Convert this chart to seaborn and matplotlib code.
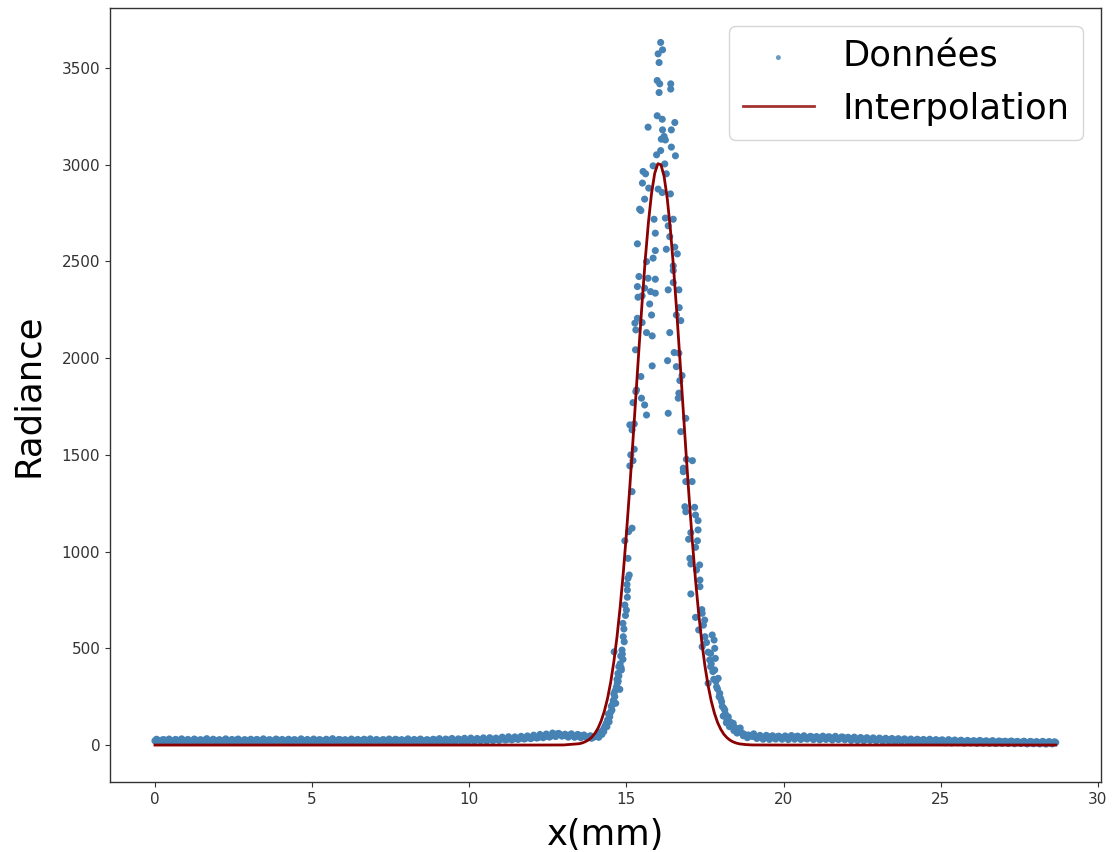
import numpy as np
import pandas as pd
import matplotlib
matplotlib.use("Agg")
import matplotlib.pyplot as plt
import seaborn as sns

# ---- Data ----
# baseline left of the peak (x in mm, radiance)
base_left_x = [0.0, 0.1, 0.2, 0.3, 0.4, 0.5, 0.6, 0.7, 0.8, 0.9, 1.0,
               1.1, 1.2, 1.3, 1.4, 1.5, 1.6, 1.7, 1.8, 1.9, 2.0,
               2.1, 2.2, 2.3, 2.4, 2.5, 2.6, 2.7, 2.8, 2.9, 3.0,
               3.1, 3.2, 3.3, 3.4, 3.5, 3.6, 3.7, 3.8, 3.9, 4.0,
               4.1, 4.2, 4.3, 4.4, 4.5, 4.6, 4.7, 4.8, 4.9, 5.0,
               5.1, 5.2, 5.3, 5.4, 5.5, 5.6, 5.7, 5.8, 5.9, 6.0,
               6.1, 6.2, 6.3, 6.4, 6.5, 6.6, 6.7, 6.8, 6.9, 7.0,
               7.1, 7.2, 7.3, 7.4, 7.5, 7.6, 7.7, 7.8, 7.9, 8.0,
               8.1, 8.2, 8.3, 8.4, 8.5, 8.6, 8.7, 8.8, 8.9, 9.0,
               9.1, 9.2, 9.3, 9.4, 9.5, 9.6, 9.7, 9.8, 9.9, 10.0,
               10.1, 10.2, 10.3, 10.4, 10.5, 10.6, 10.7, 10.8, 10.9, 11.0,
               11.1, 11.2, 11.3, 11.4, 11.5, 11.6, 11.7, 11.8, 11.9, 12.0,
               12.1, 12.2, 12.3, 12.4, 12.5, 12.6, 12.7, 12.8, 12.9, 13.0,
               13.1, 13.2, 13.3, 13.4, 13.5, 13.6, 13.7, 13.8]
base_left_y = [22, 25, 19, 27, 21, 24, 18, 26, 23, 20, 25,
               22, 19, 26, 24, 21, 27, 20, 23, 25, 18,
               24, 21, 26, 19, 23, 27, 22, 20, 25, 21,
               23, 26, 18, 24, 21, 25, 22, 19, 27, 23,
               20, 24, 22, 26, 19, 23, 25, 21, 18, 24,
               22, 26, 20, 23, 25, 19, 24, 21, 27, 22,
               19, 23, 25, 21, 24, 18, 26, 22, 20, 24,
               23, 21, 26, 19, 24, 22, 27, 20, 23, 25,
               21, 24, 19, 26, 23, 22, 25, 20, 27, 23,
               24, 22, 27, 21, 25, 23, 28, 22, 26, 24,
               27, 24, 29, 25, 28, 26, 31, 27, 29, 30,
               32, 29, 34, 31, 36, 33, 38, 35, 40, 37,
               42, 39, 45, 43, 48, 46, 52, 58, 54, 50,
               47, 52, 49, 45, 50, 47, 44, 42]

# interleaved baseline samples, left side
base_left2_x = [0.05, 0.15, 0.25, 0.35, 0.45, 0.55, 0.65, 0.75, 0.85, 0.95,
                1.05, 1.15, 1.25, 1.35, 1.45, 1.55, 1.65, 1.75, 1.85, 1.95,
                2.05, 2.15, 2.25, 2.35, 2.45, 2.55, 2.65, 2.75, 2.85, 2.95,
                3.05, 3.15, 3.25, 3.35, 3.45, 3.55, 3.65, 3.75, 3.85, 3.95,
                4.05, 4.15, 4.25, 4.35, 4.45, 4.55, 4.65, 4.75, 4.85, 4.95,
                5.05, 5.15, 5.25, 5.35, 5.45, 5.55, 5.65, 5.75, 5.85, 5.95,
                6.05, 6.15, 6.25, 6.35, 6.45, 6.55, 6.65, 6.75, 6.85, 6.95,
                7.05, 7.15, 7.25, 7.35, 7.45, 7.55, 7.65, 7.75, 7.85, 7.95,
                8.05, 8.15, 8.25, 8.35, 8.45, 8.55, 8.65, 8.75, 8.85, 8.95,
                9.05, 9.15, 9.25, 9.35, 9.45, 9.55, 9.65, 9.75, 9.85, 9.95,
                10.05, 10.15, 10.25, 10.35, 10.45, 10.55, 10.65, 10.75, 10.85, 10.95,
                11.05, 11.15, 11.25, 11.35, 11.45, 11.55, 11.65, 11.75, 11.85, 11.95,
                12.05, 12.15, 12.25, 12.35, 12.45, 12.55, 12.65, 12.75, 12.85, 12.95,
                13.05, 13.15, 13.25, 13.35, 13.45, 13.55, 13.65, 13.75, 13.85]
base_left2_y = [30, 16, 28, 14, 31, 17, 29, 15, 32, 13,
                29, 17, 31, 14, 28, 16, 33, 15, 30, 17,
                28, 14, 32, 16, 29, 13, 31, 17, 28, 15,
                30, 16, 29, 14, 32, 15, 28, 17, 31, 14,
                29, 16, 30, 13, 28, 17, 32, 15, 29, 16,
                31, 14, 28, 16, 30, 15, 33, 17, 29, 14,
                28, 16, 31, 15, 29, 13, 30, 17, 32, 15,
                29, 16, 28, 14, 31, 17, 30, 15, 28, 16,
                32, 14, 29, 17, 31, 15, 28, 16, 30, 18,
                33, 17, 31, 19, 34, 18, 32, 20, 35, 19,
                36, 21, 34, 22, 37, 20, 38, 23, 36, 24,
                41, 26, 43, 27, 42, 29, 45, 31, 47, 33,
                51, 36, 55, 38, 57, 41, 62, 44, 60, 46,
                56, 41, 58, 40, 55, 38, 52, 37, 48]

# rising edge
rise_x = [13.89, 13.95, 14.0, 14.05, 14.1, 14.15, 14.2, 14.26, 14.3, 14.33,
          14.36, 14.4, 14.43, 14.47, 14.5, 14.52, 14.54, 14.58, 14.6, 14.61,
          14.63, 14.66, 14.68, 14.7, 14.71, 14.73, 14.76, 14.76, 14.79, 14.8,
          14.82, 14.84, 14.86, 14.89, 14.89, 14.9, 14.92, 14.93, 14.95, 14.97,
          15.0, 15.02, 15.03, 15.03, 15.05, 15.09, 14.12, 14.22, 14.28, 14.38,
          14.45, 14.56, 14.64, 14.74, 14.83, 14.87]
rise_y = [35, 40, 45, 48, 52, 60, 68, 78, 90, 100,
          112, 130, 160, 146, 170, 200, 181, 230, 265, 482,
          250, 216, 300, 340, 319, 370, 405, 357, 288, 420,
          460, 388, 491, 443, 629, 560, 600, 534, 724, 670,
          698, 830, 801, 764, 862, 879, 40, 55, 70, 95,
          120, 210, 280, 330, 400, 470]

# peak cloud
peak_x = [16.09, 16.15, 16.01, 16.04, 15.98, 16.06, 16.04, 16.41, 16.41, 15.98,
          16.14, 16.54, 15.69, 16.15, 16.43, 16.2, 16.11, 16.24, 16.43, 16.09,
          15.96, 16.56, 15.85, 16.22, 15.53, 15.61, 16.27, 15.51, 15.71, 16.01,
          16.14, 16.4, 15.58, 15.42,
          15.46, 15.88, 16.24, 16.49, 16.33, 15.92, 16.38, 15.35, 16.27, 15.92,
          16.54, 16.62, 15.85, 15.64, 16.49, 16.49, 15.4, 15.69, 15.92, 16.49,
          15.35, 15.58, 16.33, 16.67, 15.77, 15.92, 15.37, 15.5, 15.74, 16.68,
          15.35, 15.8, 16.59, 16.73, 15.27, 15.5, 15.3, 15.64, 15.82, 16.38,
          15.29, 16.52, 16.67, 16.31, 15.82, 16.59, 15.46, 16.77, 16.7, 15.32,
          15.3, 15.48, 15.21, 15.58, 16.67, 16.65, 15.64, 16.33, 16.89, 15.11,
          15.25, 15.18, 16.73, 15.25, 15.14, 15.21, 15.11, 16.91, 17.1, 16.81,
          16.81, 16.89, 17.09, 15.18, 16.86, 16.89, 17.17, 17.2, 17.28, 15.18,
          15.07, 17.05, 17.28, 14.95, 16.98, 17.26, 17.2, 15.05, 17.02, 17.05,
          17.33]
peak_y = [3632, 3594, 3573, 3528, 3435, 3418, 3373, 3418, 3391, 3253,
          3235, 3218, 3194, 3180, 3180, 3146, 3132, 3128, 3091, 3073,
          3051, 3046, 2994, 3004, 2965, 2953, 2953, 2905, 2879, 2874,
          2856, 2849, 2822, 2770,
          2763, 2718, 2724, 2718, 2684, 2646, 2628, 2591, 2563, 2556,
          2574, 2539, 2517, 2499, 2477, 2453, 2422, 2413, 2408, 2391,
          2370, 2362, 2353, 2353, 2344, 2336, 2315, 2322, 2280, 2261,
          2206, 2223, 2223, 2194, 2181, 2184, 2146, 2132, 2115, 2132,
          2043, 2029, 2026, 1987, 1960, 1956, 1905, 1910, 1884, 1836,
          1827, 1793, 1770, 1758, 1819, 1793, 1706, 1715, 1689, 1655,
          1660, 1629, 1620, 1529, 1500, 1470, 1443, 1477, 1470, 1431,
          1413, 1362, 1362, 1310, 1232, 1206, 1229, 1189, 1160, 1121,
          1103, 1098, 1112, 1056, 1064, 1056, 1022, 965, 965, 936,
          931]

# falling edge
fall_x = [17.23, 17.34, 17.05, 17.34, 17.4, 17.41, 17.2, 17.45, 17.49, 17.3,
          17.5, 17.55, 17.73, 17.79, 17.41, 17.81, 17.6, 17.68, 17.65, 17.83,
          17.7, 17.68, 17.81, 17.75, 17.78, 17.92, 17.6, 17.85, 17.87, 17.9,
          17.97, 17.95, 18.0, 18.03, 18.05, 18.1, 18.13, 18.15, 18.2, 18.24,
          18.3, 18.35, 18.4, 18.45, 18.5, 18.56, 18.6, 18.65, 18.7, 18.75,
          18.8, 18.88, 18.95, 19.0, 19.1, 19.19, 18.08, 18.18, 18.28, 18.42,
          18.52, 18.62, 18.72, 18.85, 19.05, 19.15, 19.25]
fall_y = [905, 853, 781, 819, 700, 681, 660, 620, 646, 595,
          560, 530, 569, 543, 508, 500, 480, 474, 440, 448,
          420, 405, 388, 380, 340, 345, 319, 330, 301, 290,
          267, 250, 240, 224, 200, 190, 181, 160, 130, 146,
          120, 100, 112, 90, 85, 78, 70, 65, 60, 55,
          50, 52, 48, 45, 42, 40, 150, 115, 95, 75,
          62, 88, 48, 38, 58, 34, 50]

# baseline right of the peak
base_right_x = [19.3, 19.4, 19.5, 19.6, 19.7, 19.8, 19.9, 20.0,
                20.1, 20.2, 20.3, 20.4, 20.5, 20.6, 20.7, 20.8, 20.9, 21.0,
                21.1, 21.2, 21.3, 21.4, 21.5, 21.6, 21.7, 21.8, 21.9, 22.0,
                22.1, 22.2, 22.3, 22.4, 22.5, 22.6, 22.7, 22.8, 22.9, 23.0,
                23.1, 23.2, 23.3, 23.4, 23.5, 23.6, 23.7, 23.8, 23.9, 24.0,
                24.1, 24.2, 24.3, 24.4, 24.5, 24.6, 24.7, 24.8, 24.9, 25.0,
                25.1, 25.2, 25.3, 25.4, 25.5, 25.6, 25.7, 25.8, 25.9, 26.0,
                26.1, 26.2, 26.3, 26.4, 26.5, 26.6, 26.7, 26.8, 26.9, 27.0,
                27.1, 27.2, 27.3, 27.4, 27.5, 27.6, 27.7, 27.8, 27.9, 28.0,
                28.1, 28.2, 28.3, 28.4, 28.5, 28.66]
base_right_y = [42, 38, 45, 40, 36, 43, 39, 37,
                41, 36, 39, 43, 37, 40, 35, 38, 42, 36,
                39, 34, 37, 41, 35, 38, 33, 36, 40, 34,
                35, 31, 34, 29, 33, 30, 32, 28, 31, 29,
                30, 26, 29, 27, 25, 28, 24, 27, 26, 23,
                25, 22, 26, 21, 24, 20, 23, 22, 19, 24,
                21, 18, 22, 20, 17, 21, 19, 16, 20, 18,
                17, 20, 16, 19, 15, 18, 17, 14, 19, 16,
                15, 18, 14, 17, 13, 16, 15, 12, 16, 14,
                13, 15, 12, 14, 11, 13]

# interleaved baseline samples, right side
base_right2_x = [19.35, 19.45, 19.55, 19.65, 19.75, 19.85, 19.95,
                 20.05, 20.15, 20.25, 20.35, 20.45, 20.55, 20.65, 20.75, 20.85, 20.95,
                 21.05, 21.15, 21.25, 21.35, 21.45, 21.55, 21.65, 21.75, 21.85, 21.95,
                 22.05, 22.15, 22.25, 22.35, 22.45, 22.55, 22.65, 22.75, 22.85, 22.95,
                 23.05, 23.15, 23.25, 23.35, 23.45, 23.55, 23.65, 23.75, 23.85, 23.95,
                 24.05, 24.15, 24.25, 24.35, 24.45, 24.55, 24.65, 24.75, 24.85, 24.95,
                 25.05, 25.15, 25.25, 25.35, 25.45, 25.55, 25.65, 25.75, 25.85, 25.95,
                 26.05, 26.15, 26.25, 26.35, 26.45, 26.55, 26.65, 26.75, 26.85, 26.95,
                 27.05, 27.15, 27.25, 27.35, 27.45, 27.55, 27.65, 27.75, 27.85, 27.95,
                 28.05, 28.15, 28.25, 28.35, 28.45, 28.55, 28.62]
base_right2_y = [30, 50, 29, 48, 31, 46, 30,
                 47, 28, 49, 30, 46, 29, 48, 31, 45, 28,
                 44, 27, 46, 29, 43, 26, 45, 28, 42, 27,
                 40, 24, 41, 23, 39, 22, 38, 24, 37, 21,
                 36, 20, 35, 19, 34, 18, 33, 19, 32, 17,
                 31, 16, 30, 15, 29, 14, 30, 15, 28, 13,
                 27, 12, 28, 11, 26, 12, 25, 10, 24, 11,
                 23, 9, 24, 10, 22, 9, 23, 8, 21, 9,
                 20, 8, 21, 7, 19, 8, 20, 6, 19, 7,
                 18, 6, 19, 5, 18, 6, 17]

# fitted curve ("Interpolation")
fit_x = [0.0, 12.0, 13.0, 13.5, 13.6, 13.7, 13.8, 13.9, 14.0, 14.1, 14.2, 14.3,
         14.4, 14.5, 14.6, 14.7, 14.8, 14.9, 15.0, 15.1, 15.2, 15.3, 15.4,
         15.5, 15.6, 15.7, 15.8, 15.9, 16.0, 16.1, 16.2, 16.3, 16.4, 16.5,
         16.6, 16.7, 16.8, 16.9, 17.0, 17.1, 17.2, 17.3, 17.4, 17.5, 17.6,
         17.7, 17.8, 17.9, 18.0, 18.1, 18.2, 18.3, 18.4, 18.5, 18.6, 18.8,
         19.0, 20.0, 28.66]
fit_y = [0, 0, 0.5, 7, 11, 18, 27, 41, 61, 88, 126, 176,
         241, 325, 430, 558, 711, 889, 1091, 1314, 1553, 1801, 2050,
         2289, 2510, 2701, 2852, 2955, 3005, 3000, 2939, 2825, 2665, 2468,
         2243, 2000, 1751, 1504, 1268, 1049, 852, 679, 531, 407, 307,
         227, 165, 117, 82, 56, 38, 25, 16, 10, 6, 2.4,
         0.5, 0, 0]

data = pd.DataFrame({
    "x": base_left_x + base_left2_x + rise_x + peak_x + fall_x + base_right_x + base_right2_x,
    "y": base_left_y + base_left2_y + rise_y + peak_y + fall_y + base_right_y + base_right2_y,
})
fit = pd.DataFrame({"x": fit_x, "y": fit_y})

# ---- Figure ----
fig = plt.figure(figsize=(11.12, 8.52), dpi=100)
ax = fig.add_axes([110 / 1112, 1 - 782 / 852, (1101 - 110) / 1112, (782 - 8) / 852])

sns.scatterplot(data=data, x="x", y="y", ax=ax, color="steelblue", s=26,
                edgecolor="none", label="Données", zorder=2)
sns.lineplot(data=fit, x="x", y="y", ax=ax, color="darkred", linewidth=2,
             label="Interpolation", zorder=3, sort=True)

ax.set_xlim(-1.43, 30.1)
ax.set_ylim(-191, 3810)
ax.set_xticks([0, 5, 10, 15, 20, 25, 30])
ax.set_yticks([0, 500, 1000, 1500, 2000, 2500, 3000, 3500])
ax.tick_params(labelsize=11, colors="#333333")
for sp in ax.spines.values():
    sp.set_color("#333333")
    sp.set_linewidth(1.0)

ax.set_xlabel("x(mm)", fontsize=25.5, labelpad=8)
ax.set_ylabel("Radiance", fontsize=25.5, labelpad=12)

leg = ax.legend(loc="upper right", fontsize=25.5, markerscale=0.7)
for h in leg.legend_handles:
    try:
        h.set_alpha(0.8)
    except Exception:
        pass

fig.savefig("out.png", dpi=100)
